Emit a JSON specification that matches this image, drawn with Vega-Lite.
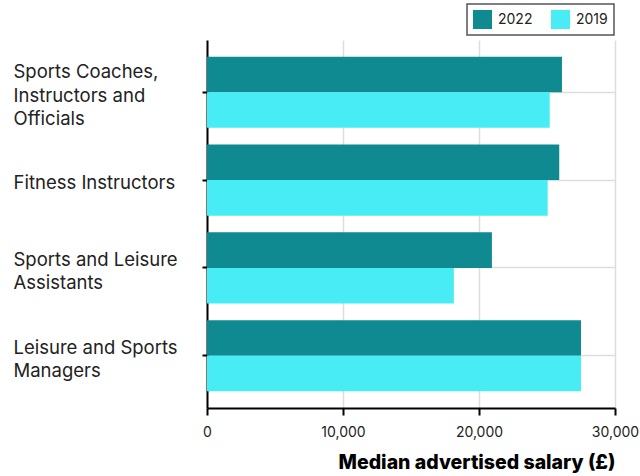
{
  "$schema": "https://vega.github.io/schema/vega-lite/v6.json",
  "width": 408,
  "height": 368,
  "autosize": {"type": "none"},
  "padding": {"left": 207, "top": 40, "right": 25, "bottom": 68},
  "background": "white",
  "data": {
    "values": [
      {"occupation": "Sports Coaches, Instructors and Officials", "year": "2022", "salary": 26100},
      {"occupation": "Sports Coaches, Instructors and Officials", "year": "2019", "salary": 25200},
      {"occupation": "Fitness Instructors", "year": "2022", "salary": 25900},
      {"occupation": "Fitness Instructors", "year": "2019", "salary": 25050},
      {"occupation": "Sports and Leisure Assistants", "year": "2022", "salary": 20950},
      {"occupation": "Sports and Leisure Assistants", "year": "2019", "salary": 18150},
      {"occupation": "Leisure and Sports Managers", "year": "2022", "salary": 27500},
      {"occupation": "Leisure and Sports Managers", "year": "2019", "salary": 27500}
    ]
  },
  "mark": {"type": "bar"},
  "encoding": {
    "y": {
      "field": "occupation",
      "type": "nominal",
      "sort": null,
      "scale": {"paddingInner": 0.19, "paddingOuter": 0.19},
      "axis": {
        "title": null,
        "domainColor": "black",
        "domainWidth": 2,
        "tickColor": "black",
        "tickWidth": 2,
        "tickSize": 5,
        "grid": true,
        "gridColor": "#dddddd",
        "gridWidth": 1.5,
        "labelAlign": "left",
        "labelPadding": 189,
        "labelFont": "Inter",
        "labelFontSize": 18.5,
        "labelLineHeight": 23.5,
        "labelColor": "#222222",
        "labelLimit": 300,
        "labelExpr": "datum.value == 'Sports Coaches, Instructors and Officials' ? ['Sports Coaches,', 'Instructors and', 'Officials'] : datum.value == 'Sports and Leisure Assistants' ? ['Sports and Leisure', 'Assistants'] : datum.value == 'Leisure and Sports Managers' ? ['Leisure and Sports', 'Managers'] : datum.value",
        "labelOffset": {"expr": "datum.value == 'Sports Coaches, Instructors and Officials' ? -20 : datum.value == 'Fitness Instructors' ? 3 : -8"}
      }
    },
    "yOffset": {"field": "year", "type": "nominal", "sort": ["2022", "2019"]},
    "x": {
      "field": "salary",
      "type": "quantitative",
      "scale": {"domain": [0, 30000], "nice": false},
      "axis": {
        "title": "Median advertised salary (£)",
        "titleFont": "Inter",
        "titleFontSize": 19.5,
        "titleFontWeight": 800,
        "titleAnchor": "end",
        "titleColor": "black",
        "titlePadding": 14,
        "values": [0, 10000, 20000, 30000],
        "format": ",d",
        "domainColor": "black",
        "domainWidth": 2,
        "tickColor": "black",
        "tickWidth": 2,
        "tickSize": 7,
        "labelFont": "Inter",
        "labelFontSize": 14,
        "labelColor": "#222222",
        "labelPadding": 10,
        "labelFlush": false,
        "grid": true,
        "gridColor": "#dddddd",
        "gridWidth": 1.5
      }
    },
    "color": {
      "field": "year",
      "type": "nominal",
      "scale": {"domain": ["2022", "2019"], "range": ["#0f8a91", "#47ecf5"]},
      "legend": {
        "title": null,
        "orient": "none",
        "direction": "horizontal",
        "legendX": 260,
        "legendY": -36,
        "strokeColor": "#555555",
        "padding": 6,
        "symbolType": "square",
        "symbolSize": 361,
        "symbolStrokeWidth": 0,
        "symbolOpacity": 1,
        "labelFont": "Inter",
        "labelFontSize": 14,
        "labelColor": "#222222",
        "columnPadding": 18,
        "labelOffset": 6,
        "encode": {"legend": {"update": {"strokeWidth": {"value": 1.5}}}}
      }
    }
  },
  "config": {"view": {"stroke": null}}
}
